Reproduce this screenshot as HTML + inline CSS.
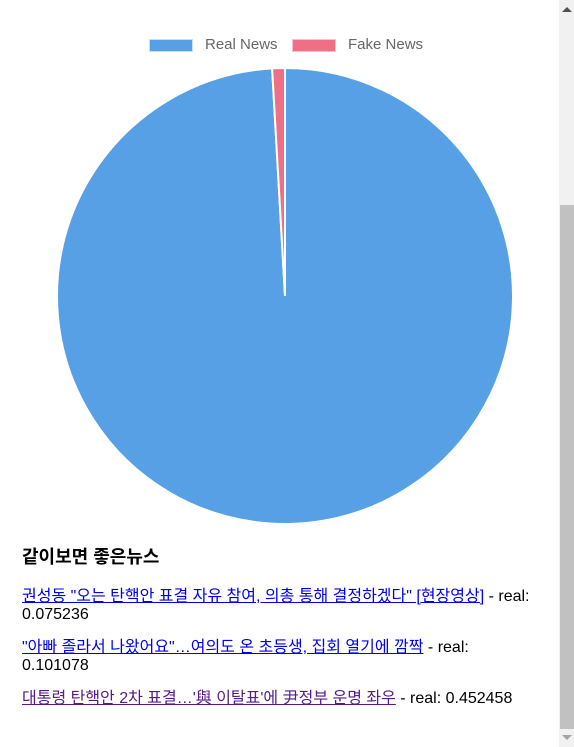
<!DOCTYPE html>
<html><head><meta charset="utf-8"><style>
body{margin:0;width:574px;height:747px;overflow:hidden;background:#fff;font-family:"Liberation Sans","Noto Sans CJK KR",sans-serif;position:relative}
#sb{position:absolute;left:559px;top:0;width:15px;height:747px;background:#f1f1f1}
#thumb{position:absolute;left:560px;top:205px;width:14px;height:524px;background:#c1c1c1}
h3{position:absolute;top:543px;left:22px;margin:0;font-size:18px;font-weight:bold}
p{position:absolute;left:22px;margin:0;font-size:16px;line-height:18px;width:515px}
a{color:#00e}
a.v{color:#551a8b}
.leg{position:absolute;top:36px;font-size:15px;color:#666}
.sw{position:absolute;top:39px;width:44px;height:13px}
</style></head><body>
<div id="sb"></div>
<div id="thumb"></div>
<div style="position:absolute;left:562px;top:7px;width:0;height:0;border-left:5px solid transparent;border-right:5px solid transparent;border-bottom:5px solid #505050"></div>
<div style="position:absolute;left:562px;top:735px;width:0;height:0;border-left:5px solid transparent;border-right:5px solid transparent;border-top:5px solid #a3a3a3"></div>
<div class="sw" style="left:149px;background:#57a0e5;border:1px solid #c8e0f7;box-sizing:border-box"></div>
<div class="leg" style="left:205px">Real News</div>
<div class="sw" style="left:292px;background:#ef6f86;border:1px solid #f7c0cb;box-sizing:border-box"></div>
<div class="leg" style="left:348px">Fake News</div>
<svg id="pie" width="574" height="540" style="position:absolute;left:0;top:0"></svg>
<h3>같이보면 좋은뉴스</h3>
<p style="top:588px"><a href="#">권성동 "오는 탄핵안 표결 자유 참여, 의총 통해 결정하겠다" [현장영상]</a> - real: 0.075236</p>
<p style="top:639px"><a href="#">"아빠 졸라서 나왔어요"…여의도 온 초등생, 집회 열기에 깜짝</a> - real: 0.101078</p>
<p style="top:690px"><a class="v" href="#">대통령 탄핵안 2차 표결…'與 이탈표'에 尹정부 운명 좌우</a> - real: 0.452458</p>
<script>
const labels=["Real News","Fake News"];
const values=[99.1,0.9];
const colors=["#57a0e5","#ef6f86"];
const svg=document.getElementById('pie');
const cx=285,cy=296,r=228;
const total=values.reduce((a,b)=>a+b,0);
let a0=-Math.PI/2;
values.forEach((v,i)=>{
  const a1=a0+v/total*2*Math.PI;
  const x0=cx+r*Math.cos(a0),y0=cy+r*Math.sin(a0),x1=cx+r*Math.cos(a1),y1=cy+r*Math.sin(a1);
  const large=(a1-a0)>Math.PI?1:0;
  const p=document.createElementNS('http://www.w3.org/2000/svg','path');
  p.setAttribute('d',`M${cx},${cy}L${x0},${y0}A${r},${r} 0 ${large} 1 ${x1},${y1}Z`);
  p.setAttribute('fill',colors[i]);
  p.setAttribute('stroke','#fff');
  p.setAttribute('stroke-width','2');
  
  
  svg.appendChild(p);
  a0=a1;
});
</script>
</body></html>
